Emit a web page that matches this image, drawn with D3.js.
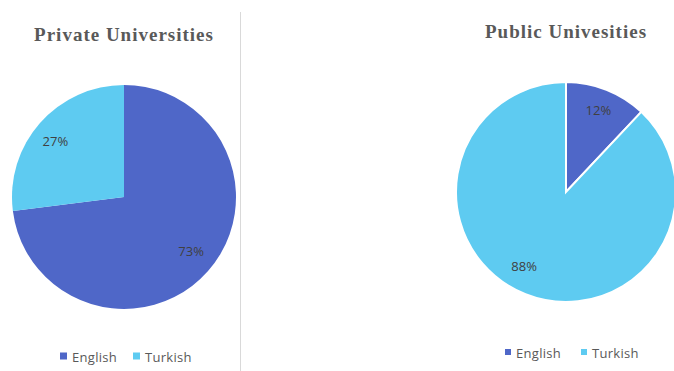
<!DOCTYPE html>
<html>
<head>
<meta charset="utf-8">
<script src="https://cdn.jsdelivr.net/npm/d3@7"></script>
<style>
  body { margin: 0; background: #fff; }
  svg { display: block; }
  .title { font-family: "Liberation Serif", "Times New Roman", serif; font-weight: bold; fill: #595959; font-size: 19px; letter-spacing: 1px; }
  .lbl { font-family: "Open Sans", "Noto Sans", sans-serif; font-size: 13px; fill: #404040; }
  .leg { font-family: "Open Sans", "Noto Sans", sans-serif; font-size: 13px; fill: #595959; letter-spacing: 0.3px; }
</style>
</head>
<body>
<svg width="674" height="371"></svg>
<script>
var categories = ["English", "Turkish"];
var privateValues = [73, 27];
var publicValues = [12, 88];
var titles = ["Private Universities", "Public Univesities"];

var svg = d3.select("svg");

var color = d3.scaleOrdinal()
    .domain(categories)
    .range(["#4f67c8", "#5ecbf1"]);

var pie = d3.pie().sort(null).value(function(d) { return d.value; });

// labelR: fraction of radius, labelShift: degrees nudged off the slice middle
var charts = [
  { values: privateValues, title: titles[0], cx: 124, cy: 197, r: 112, ty: 41, stroke: 0,
    labelR: [0.77, 0.79], labelShift: [-2.5, -2.3], legX: 60, legY: 357, sq: 7, gap: 73 },
  { values: publicValues, title: titles[1], cx: 566, cy: 192, r: 110, ty: 38, stroke: 2,
    labelR: [0.8, 0.78], labelShift: [0, 7.6], legX: 505, legY: 353, sq: 6, gap: 76 }
];

// divider
svg.append("line")
    .attr("x1", 240.5).attr("x2", 240.5)
    .attr("y1", 12).attr("y2", 371)
    .style("stroke", "#d9d9d9");

charts.forEach(function(c) {
  var data = categories.map(function(k, i) { return { key: k, value: c.values[i] }; });
  var arcs = pie(data);
  var arc = d3.arc().innerRadius(0).outerRadius(c.r);
  var g = svg.append("g").attr("transform", "translate(" + c.cx + "," + c.cy + ")");

  g.selectAll("path")
    .data(arcs)
    .enter().append("path")
      .attr("d", arc)
      .style("fill", function(d) { return color(d.data.key); })
      .style("stroke", c.stroke ? "#fff" : "none")
      .style("stroke-width", c.stroke);

  g.selectAll("text")
    .data(arcs)
    .enter().append("text")
      .attr("class", "lbl")
      .attr("text-anchor", "middle")
      .attr("dy", "0.35em")
      .attr("transform", function(d, i) {
        var a = (d.startAngle + d.endAngle) / 2 + c.labelShift[i] * Math.PI / 180,
            rr = c.r * c.labelR[i];
        return "translate(" + (Math.sin(a) * rr) + "," + (-Math.cos(a) * rr) + ")";
      })
      .text(function(d) { return d.data.value + "%"; });

  svg.append("text")
      .attr("class", "title")
      .attr("x", c.cx)
      .attr("y", c.ty)
      .attr("text-anchor", "middle")
      .text(c.title);

  var leg = svg.append("g");
  categories.forEach(function(k, i) {
    var x = c.legX + i * c.gap;
    leg.append("rect")
        .attr("x", x).attr("y", c.legY - c.sq / 2 - 1)
        .attr("width", c.sq).attr("height", c.sq)
        .style("fill", color(k));
    leg.append("text")
        .attr("class", "leg")
        .attr("x", x + c.sq + 5)
        .attr("y", c.legY)
        .attr("dy", "0.35em")
        .text(k);
  });
});
</script>
</body>
</html>
